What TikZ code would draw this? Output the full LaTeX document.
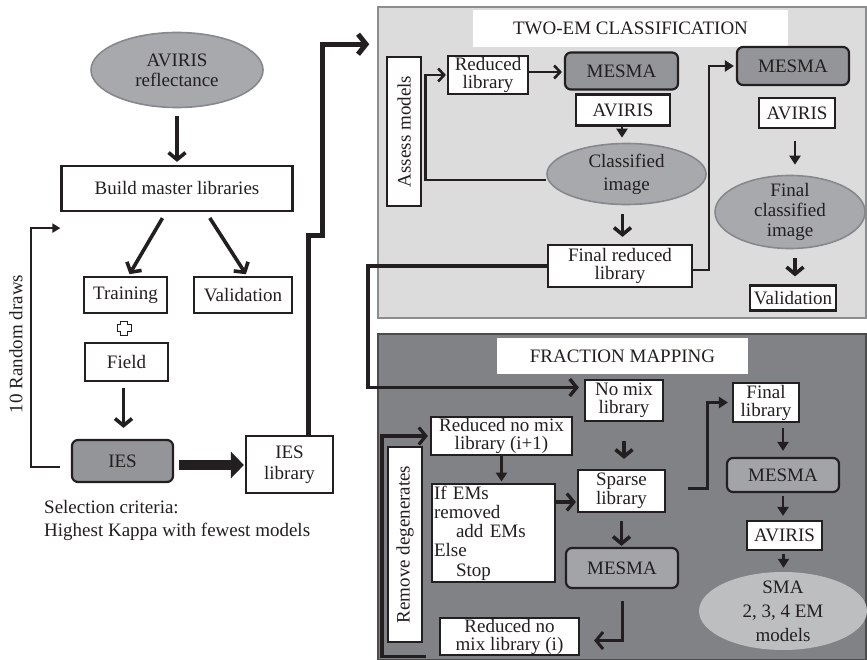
\documentclass[tikz,border=0pt]{standalone}
\usepackage{fontspec}
\setmainfont{Liberation Serif}
\usetikzlibrary{shapes.geometric,arrows.meta,calc}
\definecolor{ink}{HTML}{231F20}
\definecolor{panelA}{HTML}{DCDCDD}
\definecolor{panelAedge}{HTML}{8C8D8F}
\definecolor{panelB}{HTML}{808285}
\definecolor{panelBedge}{HTML}{4A4B4D}
\definecolor{ovalfill}{HTML}{A7A9AC}
\definecolor{ovaledge}{HTML}{86888B}
\definecolor{procfill}{HTML}{939598}
\definecolor{procfillB}{HTML}{A2A4A7}
\definecolor{smafill}{HTML}{BDBEC0}
\newcommand{\fs}[1]{\fontsize{19}{#1}\selectfont}
\begin{document}
\begin{tikzpicture}[x=1pt,y=-1pt, font=\fs{19}, text=ink,
  box/.style={draw=ink, line width=2.2pt, fill=white, inner sep=1pt, align=center},
  proc/.style={box, rounded corners=6pt, fill=procfill},
  oval/.style={ellipse, draw=ovaledge, line width=1.6pt, fill=ovalfill, inner sep=0pt},
  panel/.style={line width=1.5pt, inner sep=0pt},
  ovaltext/.style={align=center, font=\fs{#1}},
  arrheavy/.style={draw=ink, line width=3.6pt, -{Straight Barb[length=7pt,width=17pt]}},
  arrbarb/.style={draw=ink, line width=2.6pt, -{Straight Barb[length=6pt,width=13pt]}},
  arrlight/.style={draw=ink, line width=2.4pt, -{Triangle[length=9pt,width=11pt]}},
]
\fill[white] (0,0) rectangle (867,660);
\useasboundingbox (0,0) rectangle (867,660);

% ---------- left column: library building ----------
\node[oval, minimum width=172pt, minimum height=75pt,
      label={[ovaltext=20]center:AVIRIS\\reflectance}] (avref) at (177,70) {};
\node[box, minimum width=231pt, minimum height=45pt] (build) at (177,188.5) {Build master libraries};
\node[box, minimum width=83pt, minimum height=36pt] (train) at (125.5,295) {Training};
\node[box, minimum width=98pt, minimum height=36pt] (valid) at (243,295) {Validation};
\node[box, minimum width=83pt, minimum height=38pt] (field) at (126.5,362) {Field};
\node[proc, minimum width=101pt, minimum height=42pt] (ies) at (122.5,461) {IES};
\node[box, minimum width=87pt, minimum height=57pt, font=\fs{21}] (ieslib) at (289.5,464.5) {IES\\library};
\node[rotate=90] (draws) at (16,344) {10 Random draws};
\node[anchor=north west, align=left, inner sep=0pt, font=\fs{23}] (crit) at (44,500)
  {Selection criteria:\\Highest Kappa with fewest models};

% outlined plus between Training and Field
\begin{scope}[shift={(124,328)}]
  \draw[ink, line width=1pt] (-3.5,-7) -- (3.5,-7) -- (3.5,-3.5) -- (7,-3.5) -- (7,3.5) -- (3.5,3.5)
    -- (3.5,7) -- (-3.5,7) -- (-3.5,3.5) -- (-7,3.5) -- (-7,-3.5) -- (-3.5,-3.5) -- cycle;
\end{scope}

% ---------- panels ----------
\node[panel, draw=panelAedge, fill=panelA, minimum width=488pt, minimum height=311pt] (twoem) at (622,162.5) {};
\node[fill=white, inner sep=0pt, minimum width=315pt, minimum height=37pt] (twoemtitle) at (630.5,28.5) {TWO-EM CLASSIFICATION};
\node[panel, draw=panelBedge, fill=panelB, minimum width=488pt, minimum height=326pt] (frac) at (622,497) {};
\node[fill=white, inner sep=0pt, minimum width=251pt, minimum height=36pt] (fractitle) at (622.5,356) {FRACTION MAPPING};

% ---------- two-EM classification ----------
\node[box, minimum width=80pt, minimum height=34pt, font=\fs{18}] (redlib) at (488,75) {Reduced\\library};
\node[box, rotate=90, minimum width=149pt, minimum height=34pt] (assess) at (404,131.5) {Assess models};
\node[proc, minimum width=113pt, minimum height=37pt] (mesA) at (621.5,71) {MESMA};
\node[box, minimum width=94pt, minimum height=31pt] (avA) at (623,110) {AVIRIS};
\node[oval, minimum width=159pt, minimum height=61pt,
      label={[ovaltext=23]center:Classified\\image}] (cls) at (626.5,174) {};
\node[box, minimum width=144pt, minimum height=42pt, font=\fs{18}] (frl) at (620,266) {Final reduced\\library};
\node[proc, minimum width=112pt, minimum height=38pt] (mesR) at (793,66) {MESMA};
\node[box, minimum width=76pt, minimum height=30pt] (avR) at (797,113) {AVIRIS};
\node[oval, minimum width=150pt, minimum height=73pt,
      label={[ovaltext=20]center:Final\\classified\\image}] (fcls) at (790,212) {};
\node[box, minimum width=86pt, minimum height=25pt] (valR) at (793,298) {Validation};

% ---------- fraction mapping ----------
\node[box, minimum width=78pt, minimum height=41pt, font=\fs{18}] (nomix) at (624,400.5) {No mix\\library};
\node[box, minimum width=87pt, minimum height=42pt, font=\fs{19}] (sparse) at (621.5,491) {Sparse\\library};
\node[proc, fill=procfillB, minimum width=112pt, minimum height=40pt] (mesB) at (622,568) {MESMA};
\node[box, minimum width=139pt, minimum height=37pt, font=\fs{18}] (redi) at (509.5,636.5) {Reduced no\\mix library (i)};
\node[box, rotate=90, minimum width=195pt, minimum height=34pt] (remdeg) at (405,544.5) {Remove degenerates};
\node[box, minimum width=141pt, minimum height=38pt, font=\fs{18}] (redinext) at (501.5,436) {Reduced no mix\\library (i+1)};
\node[box, align=left, inner sep=2pt, text width=119pt, minimum height=96pt, font=\fs{19.3}] (ifem) at (493.5,533)
  {If EMs\\removed\\\hspace*{22pt}add EMs\\Else\\\hspace*{22pt}Stop};
\node[box, minimum width=66pt, minimum height=39pt, font=\fs{18}] (flib) at (766,402.5) {Final\\library};
\node[proc, fill=procfillB, minimum width=112pt, minimum height=34pt] (mesBR) at (783,475) {MESMA};
\node[box, minimum width=75pt, minimum height=29pt] (avB) at (784.5,535.5) {AVIRIS};
\node[ellipse, fill=smafill, inner sep=0pt, minimum width=168pt, minimum height=78pt,
      label={[ovaltext=24]center:SMA\\2, 3, 4 EM\\models}] (sma) at (783,611) {};

% ---------- connectors: left column ----------
\draw[arrheavy, shorten <=8pt, shorten >=3pt] (avref) -- (build);
\draw[arrheavy, shorten <=7pt, shorten >=2pt] ([xshift=-11pt]build.south) -- ([xshift=3pt]train.north);
\draw[arrheavy, shorten <=7pt, shorten >=2pt] ([xshift=29pt]build.south) -- ([xshift=4pt]valid.north);
\draw[arrheavy, shorten <=6pt, shorten >=11pt] ([xshift=-3pt]field.south) -- ([xshift=-3pt]field.south |- ies.north);
\draw[draw=ink, line width=10pt, -{Triangle[length=13pt,width=26pt]}, shorten <=5pt, shorten >=1pt]
  ([yshift=-4pt]ies.east) -- ([yshift=-4pt]ies.east -| ieslib.west);
\draw[arrlight, line width=2pt, -{Triangle[length=8pt,width=9pt]}]
  ([xshift=-11pt,yshift=-6pt]ies.west) -- ++(-29,0) |- ([yshift=-16pt]build.south west);
\draw[draw=ink, line width=5pt, -{Straight Barb[length=8pt,width=20pt]}, shorten >=8pt]
  ([xshift=18.5pt]ieslib.north) -- ++(0,-199) -- ++(14,0) |- ([yshift=-38pt]twoem.north west);

% ---------- connectors: two-EM classification ----------
\draw[arrbarb, shorten >=2pt] ([yshift=3pt]redlib.east) -- ([yshift=3pt]redlib.east -| mesA.west);
\draw[arrlight, shorten >=5pt] ([xshift=-1pt]avA.south) -- ([xshift=-1pt]avA.south |- cls.north);
\draw[arrbarb, shorten >=1pt] ([yshift=-6pt]cls.west) -- ++(-121,0) |- (redlib.west);
\draw[arrheavy, shorten <=9pt, shorten >=7pt] ([xshift=-4pt]cls.south) -- ([xshift=-4pt]cls.south |- frl.north);
\draw[arrheavy, line width=3.4pt, shorten >=5pt] (frl.west) -- ++(-179,0) |- ([yshift=13pt]nomix.west);
\draw[arrlight, shorten >=2pt] ([yshift=-4pt]frl.east) -- ++(16,0) |- (mesR.west);
\draw[arrlight, shorten <=12pt, shorten >=10pt] ([xshift=-2pt]avR.south) -- ([xshift=-2pt]avR.south |- fcls.north);
\draw[arrheavy, shorten <=9pt, shorten >=8pt] ([xshift=5pt]fcls.south) -- ([xshift=5pt]fcls.south |- valR.north);

% ---------- connectors: fraction mapping ----------
\draw[arrheavy, shorten <=19pt, shorten >=10pt] (nomix.south) -- (nomix.south |- sparse.north);
\draw[arrheavy, shorten <=8pt, shorten >=1pt] (sparse.south) -- (sparse.south |- mesB.north);
\draw[arrheavy, line width=3pt, shorten <=12pt, shorten >=14pt] (mesB.south) |- ([yshift=-4pt]redi.east);
\draw[arrheavy, line width=3.2pt, shorten >=2pt] ([xshift=-13pt]redi.south west) -- ++(-44,0) |- (redinext.west);
\draw[arrlight, shorten >=1pt] (redinext.south) -- (redinext.south |- ifem.north);
\draw[arrheavy, line width=3.2pt, shorten >=1pt] ([yshift=31pt]ifem.east) -- ([yshift=-11pt]sparse.west);
\draw[arrlight, line width=3pt, shorten >=4pt] ([xshift=22pt,yshift=3pt]sparse.east) -- ++(19,0) |- (flib.west);
\draw[arrlight, shorten <=5pt, shorten >=6pt] (mesBR.north |- flib.south) -- (mesBR.north);
\draw[arrlight, shorten <=3pt, shorten >=4pt] (mesBR.south) -- (mesBR.south |- avB.north);
\draw[arrlight, shorten <=3pt, shorten >=4pt] ([xshift=-1pt]avB.south) -- ([xshift=-1pt]avB.south |- sma.north);
\end{tikzpicture}
\end{document}
